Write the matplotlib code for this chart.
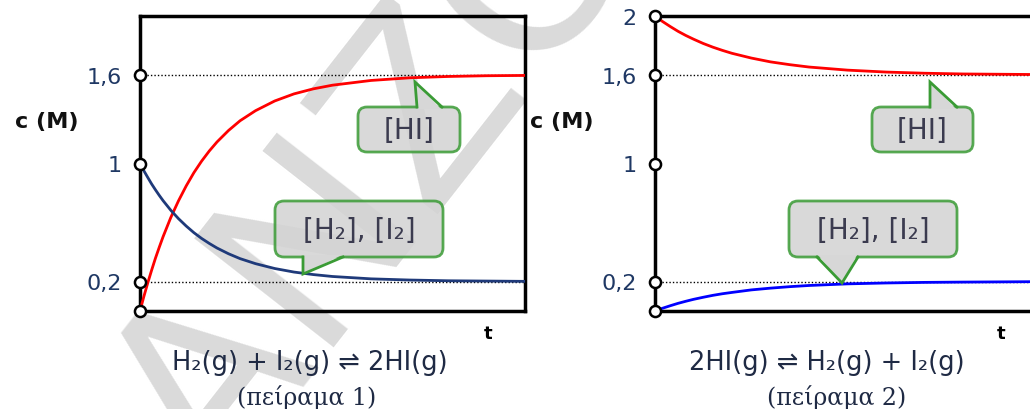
import numpy as np
import matplotlib
matplotlib.use("Agg")
import matplotlib.pyplot as plt
from matplotlib.patches import FancyBboxPatch, Polygon

plt.rcParams['font.family'] = ['DejaVu Sans']

# Πείραμα 1: H2 + I2 -> 2HI  (τιμές διαβασμένες από το σχήμα)
t1 = [0, 0.1, 0.2, 0.3, 0.4, 0.5, 0.6, 0.8, 1.0, 1.2, 1.4, 1.6, 1.8, 2.0,
      2.3, 2.6, 3.0, 3.5, 4.0, 4.5, 5, 6, 7, 8, 9, 10]
hi1 = [0, 0.098, 0.189, 0.275, 0.357, 0.432, 0.504, 0.634, 0.747, 0.848,
       0.938, 1.016, 1.085, 1.146, 1.224, 1.290, 1.358, 1.424, 1.472, 1.506,
       1.531, 1.563, 1.581, 1.590, 1.595, 1.597]
h2_1 = [1.0, 0.951, 0.906, 0.862, 0.822, 0.784, 0.748, 0.683, 0.626, 0.576,
        0.531, 0.492, 0.458, 0.427, 0.388, 0.355, 0.321, 0.288, 0.264, 0.247,
        0.234, 0.218, 0.210, 0.205, 0.203, 0.201]

# Πείραμα 2: 2HI -> H2 + I2
t2 = [0, 0.2, 0.4, 0.6, 0.8, 1.0, 1.25, 1.5, 1.75, 2.0, 2.5, 3.0, 3.5, 4,
      5, 6, 7, 8, 10]
hi2 = [2.0, 1.962, 1.928, 1.896, 1.868, 1.843, 1.814, 1.789, 1.767, 1.747,
       1.715, 1.689, 1.670, 1.654, 1.633, 1.620, 1.612, 1.607, 1.603]
h2_2 = [0, 0.019, 0.036, 0.052, 0.066, 0.079, 0.093, 0.106, 0.117, 0.126,
        0.143, 0.155, 0.165, 0.173, 0.184, 0.190, 0.194, 0.196, 0.199]

ticks1 = [0.2, 1, 1.6]
labels1 = ["0,2", "1", "1,6"]
ticks2 = [0.2, 1, 1.6, 2]
labels2 = ["0,2", "1", "1,6", "2"]
eq_lines = [0.2, 1.6]

navy = '#1f3864'
green = '#3a9b35'

fig = plt.figure(figsize=(10.3, 4.1), dpi=100)

# υδατογράφημα (κάτω από όλα)
fig.text(0.37, 0.57, "ΑΝΖΟ", rotation=52, fontsize=175, color='#dadada',
         ha='center', va='center', zorder=-1)

W, H = 1030, 410
ax1 = fig.add_axes([140 / W, (H - 312) / H, 385 / W, 295 / H])
ax2 = fig.add_axes([655 / W, (H - 312) / H, 385 / W, 295 / H])

for ax, ticks, labels in [(ax1, ticks1, labels1), (ax2, ticks2, labels2)]:
    ax.set_facecolor('none')
    ax.set_xlim(0, 10)
    ax.set_ylim(0, 2)
    ax.set_xticks([])
    ax.set_yticks(ticks)
    ax.set_yticklabels(labels)
    ax.tick_params(axis='y', length=0, pad=13, labelsize=16, labelcolor=navy)
    for s in ax.spines.values():
        s.set_linewidth(2.5)
        s.set_color('black')
    for y in eq_lines:
        ax.axhline(y, color='black', ls=(0, (1, 1.5)), lw=1, zorder=1)
    ax.plot(np.zeros(len(ticks) + 1), [0] + ticks, 'o', ms=8, mfc='white',
            mec='black', mew=1.8, clip_on=False, zorder=10)

ax1.plot(t1, hi1, color='red', lw=2, zorder=3)
ax1.plot(t1, h2_1, color='#1f3a7a', lw=2, zorder=3)
ax2.plot(t2, hi2, color='red', lw=2, zorder=3, clip_on=False)
ax2.plot(t2, h2_2, color='blue', lw=2, zorder=3, clip_on=False)

# επικάλυμμα σε pixel για κείμενα και "συννεφάκια"
ov = fig.add_axes([0, 0, 1, 1])
ov.set_xlim(0, W)
ov.set_ylim(H, 0)
ov.axis('off')
ov.patch.set_alpha(0)


def callout(x0, x1, y0, y1, tri, text):
    box = FancyBboxPatch((x0, y0), x1 - x0, y1 - y0,
                         boxstyle="round,pad=0,rounding_size=9",
                         fc='#d3d3d3', ec=green, lw=2, alpha=0.85, zorder=5)
    ov.add_patch(box)
    (bx1, by), (tx, ty), (bx2, _) = tri
    inset = 2 if ty < by else -2
    ov.add_patch(Polygon([(bx1 + 1, by + inset), (tx, ty), (bx2 - 1, by + inset)],
                         closed=True, fc='#d7d7d7', ec='none', zorder=6))
    ov.plot([bx1, tx, bx2], [by, ty, by], color=green, lw=2, zorder=7,
            solid_joinstyle='miter')
    ov.text((x0 + x1) / 2, (y0 + y1) / 2 + 1, text, ha='center', va='center',
            fontsize=20, color='#3b3b4f', zorder=8)


callout(358, 460, 108, 153, [(417, 108), (415, 83), (442, 108)], "[HI]")
callout(275, 443, 202, 258, [(303, 258), (303, 275), (343, 258)], "[H₂], [I₂]")
callout(872, 973, 108, 153, [(930, 108), (930, 83), (957, 108)], "[HI]")
callout(789, 957, 202, 258, [(817, 258), (842, 284), (858, 258)], "[H₂], [I₂]")

for x in [47, 562]:
    ov.text(x, 122, "c (M)", ha='center', va='center', fontsize=16,
            fontweight='bold', color='#111111')
for x in [488, 1001]:
    ov.text(x, 334, "t", ha='center', va='center', fontsize=13,
            fontweight='bold', color='black')

ov.text(310, 363, "H₂(g) + I₂(g) ⇌ 2HI(g)", ha='center', va='center',
        fontsize=18.5, color='#1f2a44')
ov.text(307, 398, "(πείραμα 1)", ha='center', va='center', fontsize=17,
        family='DejaVu Serif', color='#1f2a44')
ov.text(827, 363, "2HI(g) ⇌ H₂(g) + I₂(g)", ha='center', va='center',
        fontsize=18.5, color='#1f2a44')
ov.text(837, 398, "(πείραμα 2)", ha='center', va='center', fontsize=17,
        family='DejaVu Serif', color='#1f2a44')

fig.savefig("out.png", dpi=100)
